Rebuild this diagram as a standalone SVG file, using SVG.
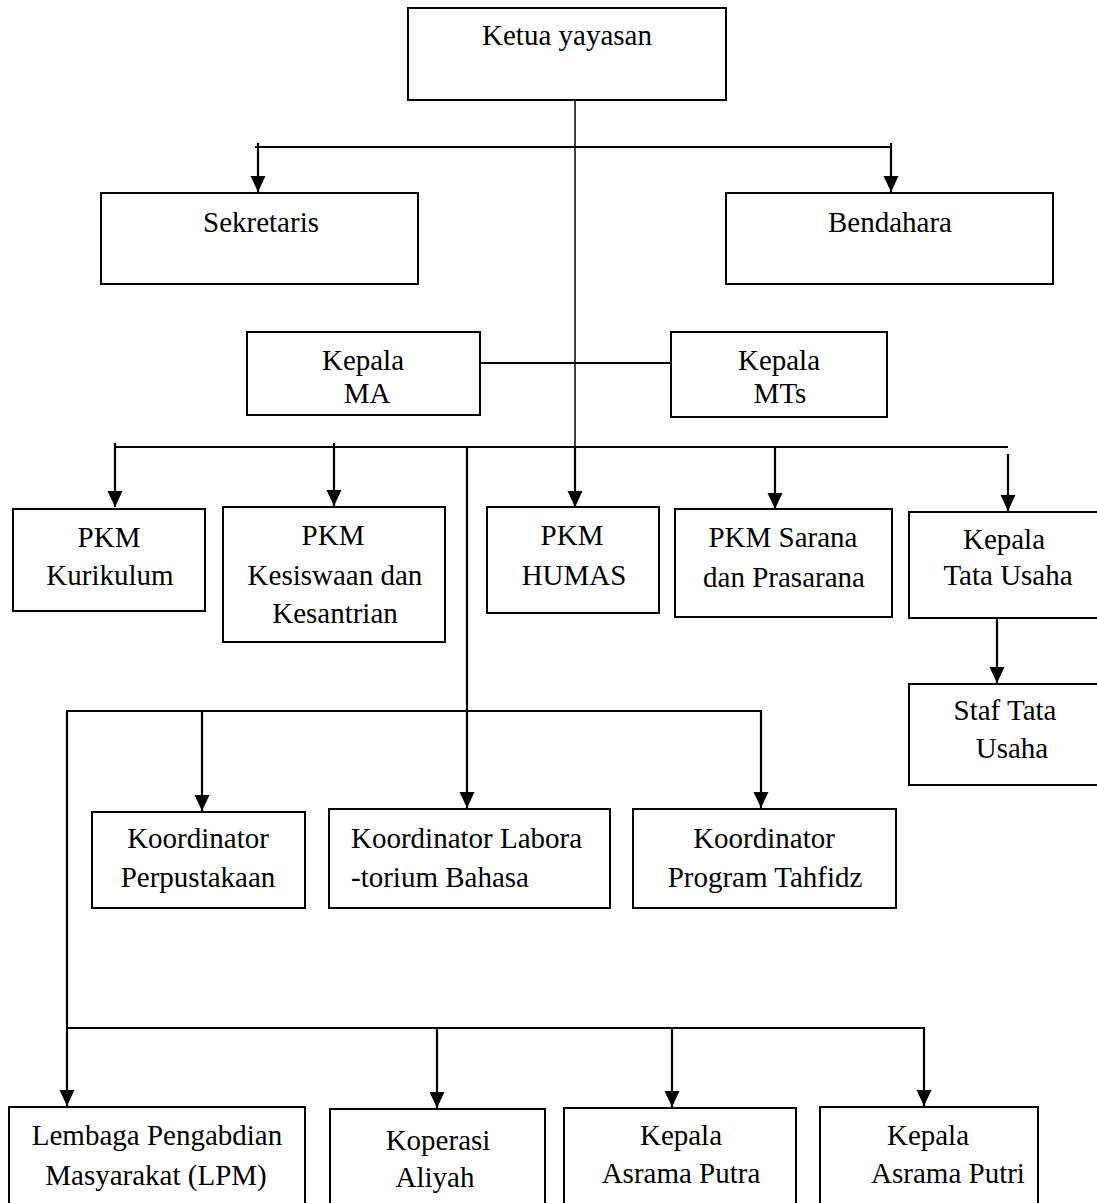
<svg xmlns="http://www.w3.org/2000/svg" width="1097" height="1203" viewBox="0 0 1097 1203">
<style>
.box{fill:#fff;stroke:#000;stroke-width:2}
.t{font-family:"Liberation Serif","Times New Roman",serif;font-size:29px;fill:#000;text-anchor:middle}
.l{text-anchor:start}
.c{fill:none;stroke:#000;stroke-width:2.2}
.thin{stroke-width:1.5}
</style>
<defs>
<marker id="ah" markerUnits="userSpaceOnUse" markerWidth="16" markerHeight="16" refX="16" refY="7.5" orient="auto">
<path d="M0,0 L16,7.5 L0,15 Z" fill="#000"/>
</marker>
</defs>
<rect width="1097" height="1203" fill="#fff"/>
<g id="connectors">
<line class="c thin" x1="575" y1="100" x2="575" y2="447"/>
<line class="c" x1="575" y1="447" x2="575" y2="507" marker-end="url(#ah)"/>
<polyline class="c" points="255,147 892,147"/>
<line class="c" x1="258" y1="143" x2="258" y2="192" marker-end="url(#ah)"/>
<line class="c" x1="891" y1="143" x2="891" y2="192" marker-end="url(#ah)"/>
<line class="c" x1="481" y1="363" x2="671" y2="363"/>
<line class="c" x1="115" y1="447" x2="1008" y2="447"/>
<line class="c" x1="115" y1="443" x2="115" y2="507" marker-end="url(#ah)"/>
<line class="c" x1="334" y1="443" x2="334" y2="506" marker-end="url(#ah)"/>
<line class="c" x1="775" y1="447" x2="775" y2="509" marker-end="url(#ah)"/>
<line class="c" x1="1008" y1="454" x2="1008" y2="511" marker-end="url(#ah)"/>
<line class="c" x1="467" y1="447" x2="467" y2="808" marker-end="url(#ah)"/>
<line class="c" x1="997" y1="619" x2="997" y2="683" marker-end="url(#ah)"/>
<line class="c" x1="66" y1="711" x2="761" y2="711"/>
<line class="c" x1="202" y1="711" x2="202" y2="811" marker-end="url(#ah)"/>
<line class="c" x1="761" y1="710" x2="761" y2="808" marker-end="url(#ah)"/>
<line class="c" x1="67" y1="710" x2="67" y2="1106" marker-end="url(#ah)"/>
<line class="c" x1="66" y1="1028" x2="925" y2="1028"/>
<line class="c" x1="437" y1="1028" x2="437" y2="1108" marker-end="url(#ah)"/>
<line class="c" x1="672" y1="1028" x2="672" y2="1107" marker-end="url(#ah)"/>
<line class="c" x1="924" y1="1028" x2="924" y2="1106" marker-end="url(#ah)"/>
</g>
<g id="ketua"><rect class="box" x="408" y="8" width="318" height="92"/><text class="t" x="567" y="45">Ketua yayasan</text></g>
<g id="sekretaris"><rect class="box" x="101" y="193" width="317" height="91"/><text class="t" x="261" y="232">Sekretaris</text></g>
<g id="bendahara"><rect class="box" x="726" y="193" width="327" height="91"/><text class="t" x="890" y="232">Bendahara</text></g>
<g id="kepala-ma"><rect class="box" x="247" y="332" width="233" height="83"/><text class="t" x="363" y="370">Kepala</text><text class="t" x="367" y="403">MA</text></g>
<g id="kepala-mts"><rect class="box" x="671" y="332" width="216" height="85"/><text class="t" x="779" y="370">Kepala</text><text class="t" x="780" y="403">MTs</text></g>
<g id="pkm-kurikulum"><rect class="box" x="13" y="509" width="192" height="102"/><text class="t" x="109" y="547">PKM</text><text class="t" x="110" y="585">Kurikulum</text></g>
<g id="pkm-kesiswaan"><rect class="box" x="223" y="507" width="222" height="135"/><text class="t" x="333" y="545">PKM</text><text class="t" x="335" y="585">Kesiswaan dan</text><text class="t" x="335" y="623">Kesantrian</text></g>
<g id="pkm-humas"><rect class="box" x="487" y="507" width="172" height="106"/><text class="t" x="572" y="545">PKM</text><text class="t" x="574" y="585">HUMAS</text></g>
<g id="pkm-sarana"><rect class="box" x="675" y="509" width="217" height="108"/><text class="t" x="783" y="547">PKM Sarana</text><text class="t" x="784" y="587">dan Prasarana</text></g>
<g id="kepala-tu"><rect class="box" x="909" y="512" width="200" height="106"/><text class="t" x="1004" y="549">Kepala</text><text class="t" x="1008" y="585">Tata Usaha</text></g>
<g id="staf-tu"><rect class="box" x="909" y="684" width="200" height="101"/><text class="t" x="1005" y="720">Staf Tata</text><text class="t" x="1012" y="758">Usaha</text></g>
<g id="koor-perpustakaan"><rect class="box" x="92" y="812" width="213" height="96"/><text class="t" x="198" y="848">Koordinator</text><text class="t" x="198" y="887">Perpustakaan</text></g>
<g id="koor-lab"><rect class="box" x="329" y="809" width="281" height="99"/><text class="t l" x="351" y="848">Koordinator Labora</text><text class="t l" x="351" y="887">-torium Bahasa</text></g>
<g id="koor-tahfidz"><rect class="box" x="633" y="809" width="263" height="99"/><text class="t" x="764" y="848">Koordinator</text><text class="t" x="765" y="887">Program Tahfidz</text></g>
<g id="lpm"><rect class="box" x="9" y="1107" width="296" height="110"/><text class="t" x="157" y="1145">Lembaga Pengabdian</text><text class="t" x="156" y="1185">Masyarakat (LPM)</text></g>
<g id="koperasi"><rect class="box" x="330" y="1109" width="215" height="110"/><text class="t" x="438" y="1150">Koperasi</text><text class="t" x="435" y="1187">Aliyah</text></g>
<g id="asrama-putra"><rect class="box" x="564" y="1108" width="232" height="110"/><text class="t" x="681" y="1145">Kepala</text><text class="t" x="681" y="1183">Asrama Putra</text></g>
<g id="asrama-putri"><rect class="box" x="820" y="1107" width="218" height="110"/><text class="t" x="928" y="1145">Kepala</text><text class="t" x="948" y="1183">Asrama Putri</text></g>
</svg>
